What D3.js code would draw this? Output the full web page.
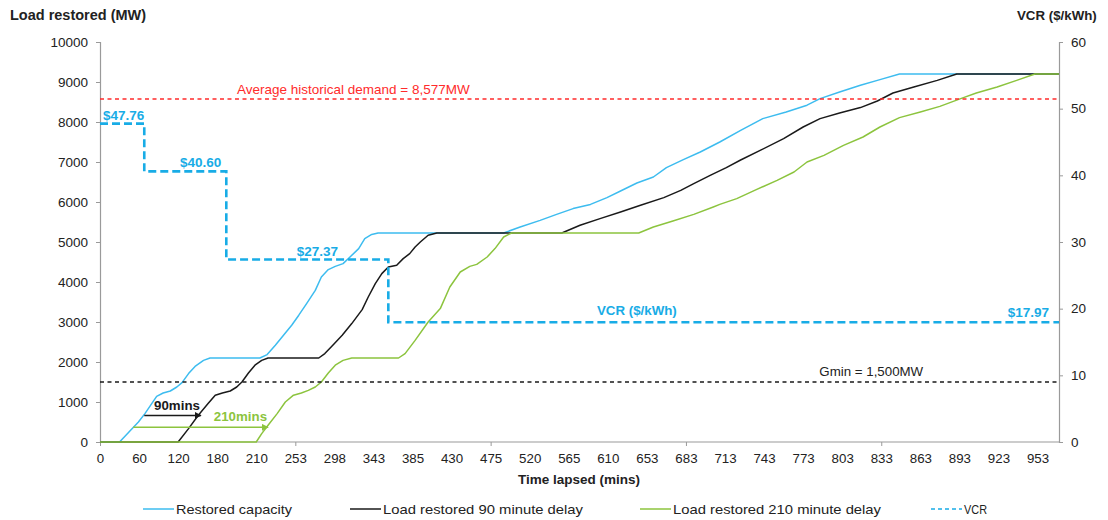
<!DOCTYPE html>
<html><head><meta charset="utf-8">
<script src="https://cdn.jsdelivr.net/npm/d3@7"></script>
<style>
body{margin:0;background:#fff;}
svg{display:block;font-family:"Liberation Sans",Arial,sans-serif;}
</style></head><body>
<svg id="chart" width="1108" height="520"></svg>
<script>
// ---------- data ----------
const timeLabels = [0,60,120,180,210,253,298,343,385,430,475,520,565,610,653,683,713,743,773,803,833,863,893,923,953];
const timeEnd = 970;
const mwTicks = d3.range(0, 10001, 1000);
const vcrTicks = d3.range(0, 61, 10);

// [minutes, MW]
const restoredCapacity = [[0,0],[30,0],[59,500],[69,710],[87,1140],[97,1225],[108,1275],[118,1375],[126,1485],[136,1710],[146,1890],[159,2040],[169,2100],[214,2100],[222,2185],[231,2420],[240,2670],[249,2920],[257,3170],[266,3460],[276,3790],[283,4125],[291,4310],[299,4390],[308,4460],[316,4625],[326,4835],[333,5085],[341,5190],[348,5225],[490,5225],[509,5375],[532,5540],[551,5690],[570,5835],[590,5940],[609,6110],[624,6275],[642,6475],[658,6625],[668,6860],[681,7060],[694,7250],[709,7500],[725,7790],[742,8085],[760,8250],[776,8420],[786,8585],[801,8750],[817,8920],[832,9060],[847,9200],[970,9200]];
const load90 = [[0,0],[120,0],[136,335],[151,670],[166,960],[177,1170],[184,1225],[190,1275],[195,1375],[199,1500],[204,1725],[209,1920],[216,2040],[223,2100],[280,2100],[287,2210],[297,2440],[307,2670],[318,2960],[330,3310],[337,3625],[345,3960],[352,4210],[359,4375],[368,4420],[375,4585],[382,4710],[388,4875],[394,5000],[403,5170],[413,5225],[557,5225],[578,5420],[601,5585],[624,5750],[646,5920],[666,6110],[679,6290],[689,6460],[702,6670],[714,6860],[725,7050],[740,7290],[758,7585],[773,7875],[786,8085],[801,8225],[817,8360],[830,8525],[842,8725],[858,8875],[876,9040],[891,9200],[970,9200]];
const load210 = [[0,0],[210,0],[216,210],[223,420],[233,710],[242,1000],[251,1170],[260,1225],[268,1290],[276,1375],[283,1500],[291,1725],[299,1920],[308,2040],[318,2100],[370,2100],[377,2210],[388,2540],[403,3000],[417,3335],[428,3875],[440,4250],[451,4390],[459,4440],[471,4625],[480,4835],[490,5125],[499,5225],[644,5225],[658,5375],[673,5525],[689,5690],[704,5875],[709,5940],[722,6085],[737,6310],[753,6540],[766,6750],[776,7000],[789,7165],[804,7415],[819,7625],[832,7875],[847,8110],[863,8250],[878,8390],[894,8585],[906,8725],[922,8875],[937,9040],[951,9200],[970,9200]];
// [minutes, $/kWh] step starts
const vcrSteps = [[0,47.76],[68,40.60],[187,27.37],[359,17.97],[970,17.97]];
const demandMW = 8577;
const gminMW = 1500;
const delay90 = [68,155,665];   // arrow start, end (mins), height (MW)
const delay210 = [51,223,368];
const seriesNames = ["Restored capacity","Load restored 90 minute delay","Load restored 210 minute delay","VCR"];

// ---------- layout ----------
const L=100, R=1059, T=42, B=442;
const cBlue="#3DBCEF", cBlack="#1a1a1a", cGreen="#8CC43E", cVcr="#18ACE6", cRed="#FF2B2B", cAxis="#9a9a9a", cText="#222";
const svg = d3.select("#chart");
const step = (R-L)/(timeLabels.length-1+0.55);
const x = d3.scaleLinear().domain([...timeLabels, timeEnd]).range([...timeLabels.map((d,i)=>L+i*step), R]);
const yL = d3.scaleLinear().domain([0,10000]).range([B,T]);
const yR = d3.scaleLinear().domain([0,60]).range([B,T]);

// axes
const gx = svg.append("g").attr("transform",`translate(0,${B})`)
  .call(d3.axisBottom(x).tickValues(timeLabels).tickSize(0).tickPadding(11.5).tickFormat(d3.format("d")));
gx.select(".domain").remove();
gx.selectAll("text").attr("font-size","13.3px").attr("fill",cText).attr("font-family","Liberation Sans, Arial");
const gxt = svg.append("g").attr("transform",`translate(0,${B})`)
  .call(d3.axisBottom(x).tickValues(timeLabels.filter((d,i)=>i%5===0)).tickSize(4).tickFormat(""));
gxt.select(".domain").remove();
gxt.selectAll("line").attr("stroke",cAxis);
svg.append("line").attr("x1",L).attr("x2",R).attr("y1",B).attr("y2",B).attr("stroke",cAxis).attr("stroke-width",1.2);

const gl = svg.append("g").attr("transform",`translate(${L},0)`)
  .call(d3.axisLeft(yL).tickValues(mwTicks).tickSize(4).tickPadding(8).tickFormat(d3.format("d")));
gl.select(".domain").attr("stroke",cAxis).attr("stroke-width",1.2);
gl.selectAll("line").attr("stroke",cAxis);
gl.selectAll("text").attr("font-size","13.5px").attr("fill",cText).attr("font-family","Liberation Sans, Arial");

const gr = svg.append("g").attr("transform",`translate(${R},0)`)
  .call(d3.axisRight(yR).tickValues(vcrTicks).tickSize(4).tickPadding(8).tickFormat(d3.format("d")));
gr.select(".domain").attr("stroke",cAxis).attr("stroke-width",1.2);
gr.selectAll("line").attr("stroke",cAxis);
gr.selectAll("text").attr("font-size","13.5px").attr("fill",cText).attr("font-family","Liberation Sans, Arial");

// titles
svg.append("text").attr("x",10).attr("y",20).attr("font-weight","bold").attr("font-size","14.5px").attr("fill",cText).text("Load restored (MW)");
svg.append("text").attr("x",1017).attr("y",20).attr("font-weight","bold").attr("font-size","13.3px").attr("fill",cText).text("VCR ($/kWh)");
svg.append("text").attr("x",579).attr("y",484).attr("text-anchor","middle").attr("font-weight","bold").attr("font-size","13.5px").attr("fill",cText).text("Time lapsed (mins)");

// series
const line = d3.line().x(d=>x(d[0])).y(d=>yL(d[1]));
[[restoredCapacity,cBlue],[load90,cBlack],[load210,cGreen]].forEach(([data,c])=>{
  svg.append("path").datum(data).attr("d",line).attr("fill","none").attr("stroke",c).attr("stroke-width",1.5).attr("stroke-linejoin","round");
});

// reference lines
svg.append("line").attr("x1",L).attr("x2",R).attr("y1",yL(demandMW)).attr("y2",yL(demandMW))
  .attr("stroke",cRed).attr("stroke-width",1.5).attr("stroke-dasharray","4,3.5");
svg.append("text").attr("x",x(timeLabels[6])+19).attr("y",yL(demandMW)-5).attr("text-anchor","middle")
  .attr("font-size","13.5px").attr("fill",cRed).text("Average historical demand = "+d3.format(",")(demandMW)+"MW");
svg.append("line").attr("x1",L).attr("x2",R).attr("y1",yL(gminMW)).attr("y2",yL(gminMW))
  .attr("stroke",cBlack).attr("stroke-width",1.3).attr("stroke-dasharray","4,3.5");
svg.append("text").attr("x",x(833)-10).attr("y",yL(gminMW)-6).attr("text-anchor","middle")
  .attr("font-size","13.3px").attr("fill",cText).text("Gmin = "+d3.format(",")(gminMW)+"MW");

// VCR step line
const vline = d3.line().x(d=>x(d[0])).y(d=>yR(d[1])).curve(d3.curveStepAfter);
svg.append("path").datum(vcrSteps).attr("d",vline).attr("fill","none").attr("stroke",cVcr).attr("stroke-width",2.6).attr("stroke-dasharray","8,4");
const fmt = d3.format("$.2f");
const vlab = (xx,yy,anchor,txt)=>svg.append("text").attr("x",xx).attr("y",yy).attr("text-anchor",anchor)
  .attr("font-weight","bold").attr("font-size","13.5px").attr("fill",cVcr).text(txt);
vlab(x(vcrSteps[0][0])+3, yR(vcrSteps[0][1])-4, "start", fmt(vcrSteps[0][1]));
vlab(x(vcrSteps[1][0]) + (x(vcrSteps[2][0])-x(vcrSteps[1][0])) - 5, yR(vcrSteps[1][1])-4, "end", fmt(vcrSteps[1][1]));
vlab((x(vcrSteps[2][0])+x(vcrSteps[3][0]))/2+10, yR(vcrSteps[2][1])-4, "middle", fmt(vcrSteps[2][1]));
vlab(x(vcrSteps[4][0])-10, yR(vcrSteps[3][1])-5, "end", fmt(vcrSteps[3][1]));
vlab(x(653)-10, yR(vcrSteps[3][1])-7, "middle", "VCR ($/kWh)").attr("font-size","13.3px");

// delay arrows
const defs = svg.append("defs");
[["ah-black",cBlack],["ah-green",cGreen]].forEach(([id,c])=>{
  defs.append("marker").attr("id",id).attr("viewBox","0 0 10 10").attr("refX",9).attr("refY",5)
    .attr("markerWidth",7).attr("markerHeight",7).attr("markerUnits","userSpaceOnUse").attr("orient","auto")
    .append("path").attr("d","M0,0L10,5L0,10z").attr("fill",c);
});
[[delay90,cBlack,"ah-black","90mins",-5],[delay210,cGreen,"ah-green","210mins",-6]].forEach(([d,c,m,t,dy])=>{
  svg.append("line").attr("x1",x(d[0])).attr("x2",x(d[1])).attr("y1",yL(d[2])).attr("y2",yL(d[2]))
    .attr("stroke",c).attr("stroke-width",1.5).attr("marker-end",`url(#${m})`);
  svg.append("text").attr("x",x(d[1])-1).attr("y",yL(d[2])+dy).attr("text-anchor","end")
    .attr("font-weight","bold").attr("font-size","13.3px").attr("fill",c).text(t);
});

// legend
const legX = [143,350,640,931];
const legW = [116,200,208,23];
const legC = [cBlue,cBlack,cGreen,cVcr];
const lg = svg.append("g");
seriesNames.forEach((n,i)=>{
  lg.append("line").attr("x1",legX[i]).attr("x2",legX[i]+31).attr("y1",509).attr("y2",509)
    .attr("stroke",legC[i]).attr("stroke-width",i===3?1.5:1.5).attr("stroke-dasharray",i===3?"4,3":null);
  lg.append("text").attr("x",legX[i]+33).attr("y",514).attr("font-size","13.5px").attr("fill",cText)
    .attr("textLength",legW[i]).attr("lengthAdjust","spacingAndGlyphs").text(n);
});
</script>
</body></html>
